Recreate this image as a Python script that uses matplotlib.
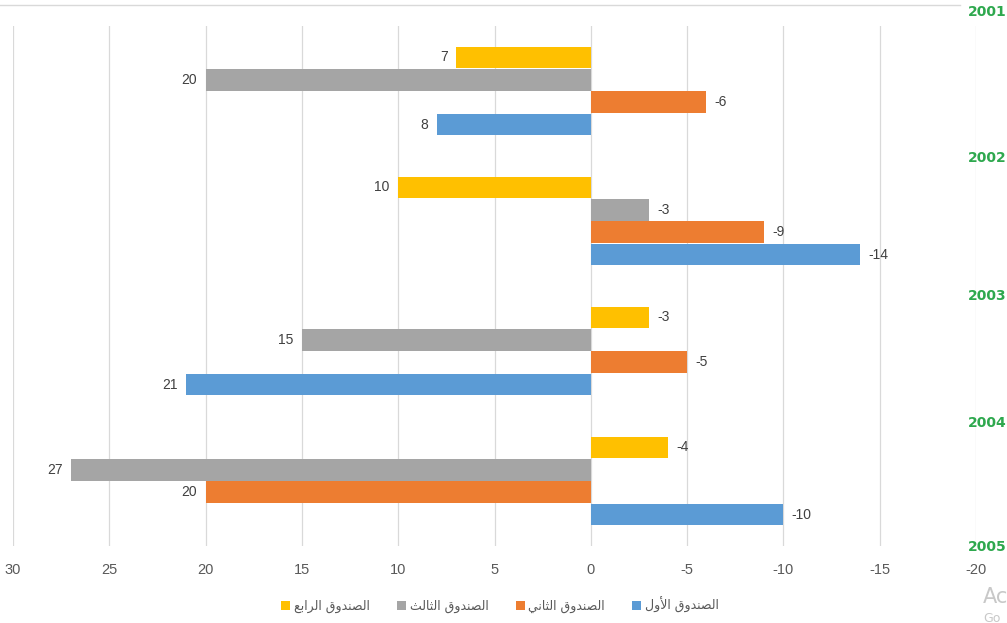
import matplotlib
matplotlib.use("Agg")
import matplotlib.pyplot as plt
import numpy as np
from matplotlib.lines import Line2D
from matplotlib.ticker import FuncFormatter

# Dados (grupos de cima para baixo)
years = ["2001", "2002", "2003", "2004", "2005"]
series_names = ["الصندوق الأول", "الصندوق الثاني", "الصندوق الثالث", "الصندوق الرابع"]
fund1 = [8, -14, 21, -10]
fund2 = [-6, -9, -5, 20]
fund3 = [20, -3, 15, 27]
fund4 = [7, 10, -3, -4]
x_ticks = [30, 25, 20, 15, 10, 5, 0, -5, -10, -15, -20]

colors = ["#5B9BD5", "#ED7D31", "#A5A5A5", "#FFC000"]
values = [fund1, fund2, fund3, fund4]

# Formas de apresentacao arabe (isolada, final, inicial, medial)
FORMS = {
    'ا': ('\uFE8D', '\uFE8E', None, None),
    'أ': ('\uFE83', '\uFE84', None, None),
    'ل': ('\uFEDD', '\uFEDE', '\uFEDF', '\uFEE0'),
    'ص': ('\uFEB9', '\uFEBA', '\uFEBB', '\uFEBC'),
    'ن': ('\uFEE5', '\uFEE6', '\uFEE7', '\uFEE8'),
    'د': ('\uFEA9', '\uFEAA', None, None),
    'و': ('\uFEED', '\uFEEE', None, None),
    'ق': ('\uFED5', '\uFED6', '\uFED7', '\uFED8'),
    'ث': ('\uFE99', '\uFE9A', '\uFE9B', '\uFE9C'),
    'ي': ('\uFEF1', '\uFEF2', '\uFEF3', '\uFEF4'),
    'ر': ('\uFEAD', '\uFEAE', None, None),
    'ب': ('\uFE8F', '\uFE90', '\uFE91', '\uFE92'),
    'ع': ('\uFEC9', '\uFECA', '\uFECB', '\uFECC'),
}
LAM_ALEF = {'ا': ('\uFEFB', '\uFEFC', None, None), 'أ': ('\uFEF7', '\uFEF8', None, None)}


def shape(text):
    units = []
    i = 0
    while i < len(text):
        c = text[i]
        if c == 'ل' and i + 1 < len(text) and text[i + 1] in LAM_ALEF:
            units.append(LAM_ALEF[text[i + 1]])
            i += 2
            continue
        units.append(FORMS.get(c, c))
        i += 1
    out = []
    for k, u in enumerate(units):
        if isinstance(u, str):
            out.append(u)
            continue
        prev = units[k - 1] if k > 0 else None
        nxt = units[k + 1] if k + 1 < len(units) else None
        pj = isinstance(prev, tuple) and prev[2] is not None
        nj = u[2] is not None and isinstance(nxt, tuple)
        if pj and nj:
            out.append(u[3])
        elif pj:
            out.append(u[1])
        elif nj:
            out.append(u[2])
        else:
            out.append(u[0])
    return ''.join(reversed(out))


plt.rcParams['font.family'] = ['DejaVu Sans']

fig = plt.figure(figsize=(10.07, 6.23), dpi=100)
ax = fig.add_axes([13 / 1007, 1 - 546 / 623, (976 - 13) / 1007, (546 - 26) / 623])

y = np.arange(4)
h = 0.169
offsets = [0.2577, 0.0846, -0.0846, -0.2577]
for vals, col, off, name in zip(values, colors, offsets, series_names):
    bars = ax.barh(y + off, vals, height=h, color=col, label=shape(name), zorder=2)
    for b, v in zip(bars, vals):
        ax.annotate(str(v), (v, b.get_y() + h / 2),
                    xytext=(-6 if v > 0 else 6, 0), textcoords="offset points",
                    ha="right" if v > 0 else "left", va="center",
                    fontsize=10, color="#404040", family="Liberation Sans")

ax.set_xlim(30, -20)
ax.set_ylim(3.5, -0.5)
ax.set_xticks(x_ticks)
ax.xaxis.set_major_formatter(FuncFormatter(lambda v, p: "%d" % v))
ax.set_yticks([])
ax.grid(axis="x", color="#D9D9D9", linewidth=0.9, zorder=0)
for s in ax.spines.values():
    s.set_visible(False)
ax.tick_params(axis="x", length=0, pad=12, labelsize=10.5, labelcolor="#595959")
for lbl in ax.get_xticklabels():
    lbl.set_family("Liberation Sans")

# linha superior
fig.add_artist(Line2D([0, 960 / 1007], [1 - 5 / 623, 1 - 5 / 623], color="#D9D9D9", lw=1))

# anos em verde
year_y = [12, 158, 296, 423, 547]
for yr, py in zip(years, year_y):
    fig.text(968 / 1007, 1 - py / 623, yr, color="#2EA84E", fontsize=10,
             fontweight="bold", va="center", ha="left")

handles, labels = ax.get_legend_handles_labels()
leg = fig.legend(handles[::-1], labels[::-1], loc="center", ncol=4,
                 bbox_to_anchor=(500 / 1007, 1 - 605 / 623), frameon=False,
                 fontsize=9, handlelength=0.7, handleheight=0.7,
                 handletextpad=0.3, columnspacing=2.2)
for t in leg.get_texts():
    t.set_color("#595959")

# marca d'agua cortada na borda
fig.text(983 / 1007, 1 - 597 / 623, "Ac", color="#C8C8C8", fontsize=15,
         va="center", ha="left")
fig.text(983 / 1007, 1 - 618 / 623, "Go", color="#C8C8C8", fontsize=9,
         va="center", ha="left")

fig.savefig("out.png", dpi=100)
